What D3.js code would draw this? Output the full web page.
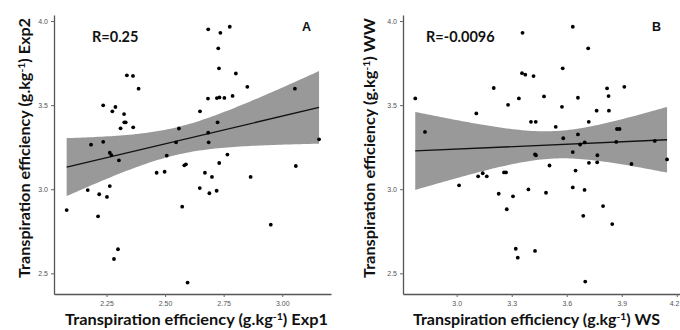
<!DOCTYPE html>
<html>
<head>
<meta charset="utf-8">
<script src="https://cdn.jsdelivr.net/npm/d3@7"></script>
<style>
  body { margin: 0; background: #fff; }
  svg { display: block; }
</style>
</head>
<body>
<div id="chart"></div>
<script>
// Panel A: Exp1 (x) vs Exp2 (y)
const exp1 = [2.684,2.776,2.736,2.727,2.730,2.802,2.337,2.363,2.387,2.851,
  3.054,2.236,2.288,2.275,2.325,2.683,2.721,2.732,2.753,2.788,
  2.649,2.310,2.326,2.332,2.364,2.724,2.559,2.684,2.184,2.236,
  2.547,2.686,3.157,2.264,2.271,2.303,2.507,2.766,2.464,2.498,
  2.582,2.589,2.670,2.700,2.731,2.648,2.689,2.720,2.865,3.058,
  2.170,2.219,2.264,2.252,2.080,2.214,2.573,2.299,2.282,2.596,2.951]
const exp2 = [3.951,3.966,3.930,3.838,3.719,3.688,3.677,3.674,3.598,3.609,
  3.598,3.499,3.489,3.463,3.447,3.539,3.542,3.546,3.543,3.555,
  3.463,3.362,3.398,3.398,3.368,3.398,3.361,3.336,3.265,3.282,
  3.279,3.279,3.297,3.217,3.203,3.172,3.200,3.206,3.098,3.104,
  3.142,3.148,3.098,3.073,3.156,3.007,2.976,2.991,3.073,3.138,
  2.995,2.970,3.019,2.954,2.876,2.839,2.896,2.643,2.585,2.445,2.789]

// Panel B: WS (x) vs WW (y)
const ws = [2.774,2.827,3.107,3.202,3.280,3.339,3.359,3.356,3.374,3.419,
  3.405,3.431,3.476,3.540,3.574,3.578,3.633,3.717,3.661,3.763,
  3.720,3.820,3.828,3.830,3.914,3.874,3.888,3.581,3.661,3.673,
  3.698,3.870,4.080,3.427,3.432,3.633,3.767,3.721,3.766,3.953,
  4.147,3.506,3.648,3.487,3.633,3.697,3.798,3.690,3.848,3.427,
  3.701,3.013,3.117,3.142,3.164,3.258,3.269,3.229,3.307,3.391,
  3.273,3.322,3.333]
const ww = [3.540,3.341,3.451,3.602,3.502,3.540,3.930,3.690,3.681,3.673,
  3.401,3.401,3.552,3.371,3.490,3.719,3.966,3.838,3.544,3.467,
  3.401,3.600,3.554,3.467,3.609,3.358,3.358,3.303,3.326,3.266,
  3.279,3.281,3.287,3.207,3.202,3.221,3.202,3.157,3.160,3.150,
  3.177,3.141,3.111,2.979,3.011,2.996,2.900,2.842,2.793,2.633,
  2.451,3.023,3.077,3.095,3.077,3.100,3.100,2.973,2.958,2.999,
  2.881,2.646,2.593]

const ticksA = [2.25, 2.50, 2.75, 3.00]
const ticksB = [3.0, 3.3, 3.6, 3.9, 4.2]
const ticksY = [2.5, 3.0, 3.5, 4.0]
const labels = ['A', 'B']
const rTexts = ['R=0.25', 'R=-0.0096']
const yTitleEnd = ['Exp2', 'WW']
const xTitleEnd = ['Exp1', 'WS']

const W = 680, H = 330
const T_CRIT = 2.0 // ~t(0.975, n-2)

const svg = d3.select('#chart').append('svg')
  .attr('width', W).attr('height', H)

function fit(xs, ys) {
  const n = xs.length
  const mx = d3.mean(xs), my = d3.mean(ys)
  let sxx = 0, sxy = 0
  xs.forEach((x, i) => { sxx += (x - mx) ** 2; sxy += (x - mx) * (ys[i] - my) })
  const b = sxy / sxx, a = my - b * mx
  let sse = 0
  xs.forEach((x, i) => { sse += (ys[i] - a - b * x) ** 2 })
  const s = Math.sqrt(sse / (n - 2))
  const pred = x => a + b * x
  const half = x => T_CRIT * s * Math.sqrt(1 / n + (x - mx) ** 2 / sxx)
  return { pred, half }
}

function panel(cfg) {
  const x = d3.scaleLinear().domain(cfg.xDomain).range([cfg.left, cfg.right])
  const y = d3.scaleLinear().domain([2.377, 4.036]).range([294, 15])
  const g = svg.append('g')

  const f = fit(cfg.xs, cfg.ys)
  const [x0, x1] = d3.extent(cfg.xs)
  const grid = d3.range(0, 81).map(i => x0 + (x1 - x0) * i / 80)

  g.append('path')
    .datum(grid)
    .attr('fill', '#999')
    .attr('d', d3.area()
      .x(d => x(d))
      .y0(d => y(f.pred(d) - f.half(d)))
      .y1(d => y(f.pred(d) + f.half(d))))

  g.append('path')
    .datum([x0, x1])
    .attr('fill', 'none')
    .attr('stroke', '#111')
    .attr('stroke-width', 1.3)
    .attr('d', d3.line().x(d => x(d)).y(d => y(f.pred(d))))

  g.selectAll('circle')
    .data(cfg.xs.map((v, i) => [v, cfg.ys[i]]))
    .join('circle')
    .attr('cx', d => x(d[0]))
    .attr('cy', d => y(d[1]))
    .attr('r', 1.9)
    .attr('fill', '#000')

  const xAxis = g.append('g')
    .attr('transform', `translate(0,294)`)
    .call(d3.axisBottom(x).tickValues(cfg.xTicks).tickFormat(d3.format(cfg.xFmt)).tickSize(3).tickSizeOuter(0))
  const yAxis = g.append('g')
    .attr('transform', `translate(${cfg.left},0)`)
    .call(d3.axisLeft(y).tickValues(ticksY).tickFormat(d3.format('.1f')).tickSize(3).tickSizeOuter(0))

  for (const ax of [xAxis, yAxis]) {
    ax.select('.domain').attr('stroke', '#555').attr('stroke-width', 1.3)
    ax.selectAll('.tick line').attr('stroke', '#666')
    ax.selectAll('.tick text')
      .attr('fill', '#555')
      .attr('font-size', 7)
      .attr('font-family', 'Liberation Sans, Arial, sans-serif')
  }
  xAxis.selectAll('.tick text').attr('dy', '0.9em')
  // keep a label that sits on the window edge inside it
  xAxis.selectAll('.tick text').each(function () {
    const b = this.getBoundingClientRect()
    if (b.right > W - 0.5) d3.select(this).attr('dx', W - 0.5 - b.right)
  })

  g.append('text')
    .attr('x', cfg.rX).attr('y', 42)
    .attr('font-family', 'Lato, Liberation Sans, sans-serif')
    .attr('font-weight', 'bold')
    .attr('font-size', 14.5)
    .attr('fill', '#111')
    .text(cfg.rText)

  g.append('text')
    .attr('x', cfg.labX).attr('y', 31)
    .attr('font-family', 'Liberation Sans, Arial, sans-serif')
    .attr('font-weight', 'bold')
    .attr('font-size', 12.5)
    .attr('fill', '#111')
    .text(cfg.label)

  // axis titles
  const title = (sel, end, len) => {
    sel.attr('font-family', 'Lato, Liberation Sans, sans-serif')
      .attr('font-weight', 'bold')
      .attr('font-size', 15.5)
      .attr('fill', '#111')
      .attr('textLength', len)
      .attr('lengthAdjust', 'spacingAndGlyphs')
    sel.append('tspan').text('Transpiration efficiency (g.kg')
    sel.append('tspan').attr('dy', -5).attr('font-size', 10).text('-1')
    sel.append('tspan').attr('dy', 5).text(')  ' + end)
  }

  g.append('text')
    .attr('x', cfg.xtX).attr('y', 325)
    .call(title, cfg.xEnd, cfg.xtLen)

  g.append('text')
    .attr('transform', `translate(${cfg.ytX},278) rotate(-90)`)
    .call(title, cfg.yEnd, 260)
}

panel({
  xs: exp1, ys: exp2, xDomain: [2.026, 3.208], left: 54, right: 331,
  xTicks: ticksA, xFmt: '.2f', rText: rTexts[0], rX: 92, label: labels[0], labX: 302,
  xEnd: xTitleEnd[0], yEnd: yTitleEnd[0], xtX: 65, xtLen: 263, ytX: 30
})
panel({
  xs: ws, ys: ww, xDomain: [2.7072, 4.2394], left: 403, right: 684,
  xTicks: ticksB, xFmt: '.1f', rText: rTexts[1], rX: 426, label: labels[1], labX: 652,
  xEnd: xTitleEnd[1], yEnd: yTitleEnd[1], xtX: 413, xtLen: 247, ytX: 375
})
</script>
</body>
</html>
